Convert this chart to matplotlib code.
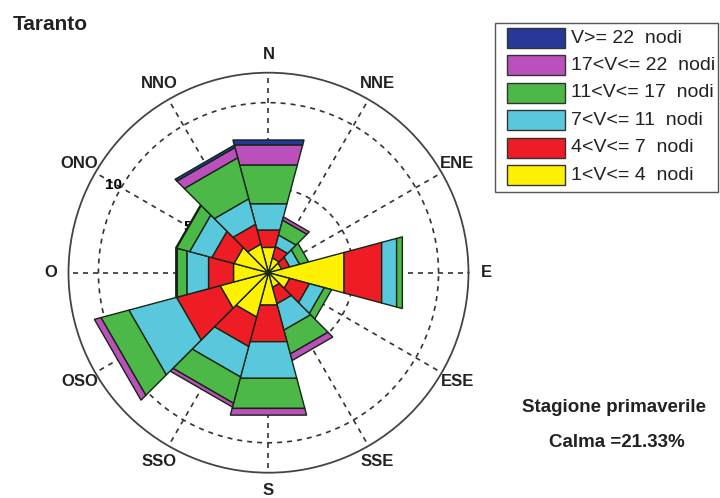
import numpy as np
import matplotlib
matplotlib.use("Agg")
import matplotlib.pyplot as plt
from matplotlib.patches import Rectangle

plt.rcParams['font.family'] = ['Liberation Sans', 'DejaVu Sans']

# wind directions (12 sectors of 30 degrees, clockwise from north)
directions = ['N', 'NNE', 'ENE', 'E', 'ESE', 'SSE', 'S', 'SSO', 'OSO', 'O', 'ONO', 'NNO']

# frequency (%) per speed class, same order as directions
v_1_4 = [1.54, 0.90, 0.80, 4.60, 1.30, 0.90, 1.97, 2.70, 2.95, 2.13, 2.10, 1.74]
v_4_7 = [1.06, 0.70, 0.50, 2.29, 1.20, 1.00, 2.23, 1.80, 2.65, 1.52, 1.35, 1.21]
v_7_11 = [1.60, 0.70, 0.60, 0.91, 0.90, 1.60, 2.23, 1.85, 2.90, 1.32, 1.35, 1.55]
v_11_17 = [2.36, 0.90, 0.55, 0.35, 0.45, 1.45, 1.83, 1.60, 1.70, 0.58, 0.80, 2.50]
v_17_22 = [1.22, 0.20, 0.00, 0.00, 0.00, 0.40, 0.41, 0.23, 0.40, 0.05, 0.05, 0.62]
v_22 = [0.30, 0.00, 0.00, 0.00, 0.00, 0.00, 0.00, 0.00, 0.00, 0.03, 0.00, 0.15]

classes = [v_1_4, v_4_7, v_7_11, v_11_17, v_17_22, v_22]
class_labels = ['1<V<= 4  nodi', '4<V<= 7  nodi', '7<V<= 11  nodi',
                '11<V<= 17  nodi', '17<V<= 22  nodi', 'V>= 22  nodi']
class_colors = ['#fff200', '#ee1c24', '#5ac8dc', '#4cb848', '#bb4fbb', '#27389a']

ring_values = [5, 10]
calma = 21.33
rmax = 11.76

fig = plt.figure(figsize=(7.2, 4.98), dpi=100)
ax = fig.add_axes([0.0951, 0.0508, 0.5556, 0.8032], projection='polar')
ax.set_ylim(0, rmax)
ax.set_xticks([])
ax.set_yticks([])
ax.grid(False)
ax.spines['polar'].set_color('#444444')
ax.spines['polar'].set_linewidth(1.3)

grid_kw = dict(color='#333333', lw=1.2, dashes=(3, 3), zorder=1)
t = np.linspace(0, 2 * np.pi, 361)
for rv in ring_values:
    ax.plot(t, np.full_like(t, rv), **grid_kw)
for a in range(0, 360, 30):
    ax.plot([np.radians(a)] * 2, [0, rmax], **grid_kw)

# ring labels along the ONO spoke (the "5" sits mostly behind the bars)
for rv in ring_values:
    ax.text(np.radians(150.5), rv + 0.45, str(rv), ha='center', va='center',
            fontsize=11, fontweight='bold', zorder=1.5)

half = np.radians(15)
for i, d in enumerate(directions):
    c = np.radians(90 - 30 * i)
    inner = 0.0
    for vals, col in zip(classes, class_colors):
        v = vals[i]
        if v <= 0:
            continue
        outer = inner + v
        th = [c - half, c + half, c + half, c - half]
        rr = [inner, inner, outer, outer]
        ax.fill(th, rr, facecolor=col, edgecolor='#152515', lw=1.0, zorder=3)
        inner = outer
    ax.text(c, rmax * 1.09, d, ha='center', va='center', fontsize=12,
            fontweight='bold', color='#222222', clip_on=False)

fig.text(13 / 720, 1 - 24 / 498, 'Taranto', ha='left', va='center',
         fontsize=15, fontweight='bold', color='#222222')

# legend box
W, H = 720, 498
fig.patches.append(Rectangle((495 / W, 1 - 192 / H), 223 / W, 169 / H,
                             transform=fig.transFigure, fill=False,
                             edgecolor='#555555', lw=1.0))
for k, (lab, col) in enumerate(zip(class_labels[::-1], class_colors[::-1])):
    yc = 38 + 27.4 * k
    fig.patches.append(Rectangle((507 / W, 1 - (yc + 10) / H), 58 / W, 20 / H,
                                 transform=fig.transFigure, facecolor=col,
                                 edgecolor='#333333', lw=1.0))
    fig.text(571 / W, 1 - yc / H, lab, ha='left', va='center', fontsize=14,
             color='#222222')

fig.text(614 / W, 1 - 407 / H, 'Stagione primaverile', ha='center',
         va='center', fontsize=13.5, fontweight='bold', color='#222222')
fig.text(617 / W, 1 - 442 / H, 'Calma =%.2f%%' % calma, ha='center',
         va='center', fontsize=13.5, fontweight='bold', color='#222222')

fig.savefig('out.png', dpi=100)
